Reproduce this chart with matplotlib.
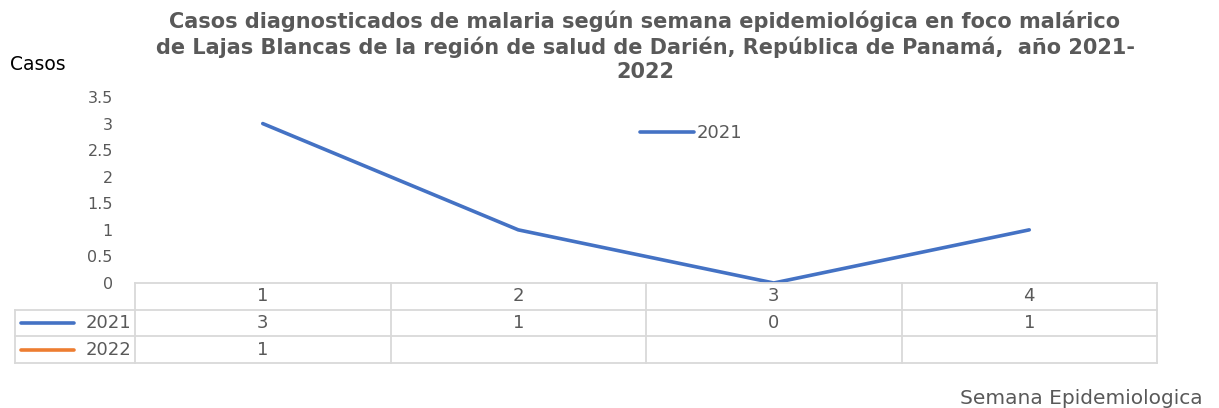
import matplotlib
matplotlib.use("Agg")
import matplotlib.pyplot as plt

semanas = ["1", "2", "3", "4"]
casos_2021 = [3, 1, 0, 1]
casos_2022 = [1, None, None, None]
yticks = [0, 0.5, 1, 1.5, 2, 2.5, 3, 3.5]
yticklabels = ["0", "0.5", "1", "1.5", "2", "2.5", "3", "3.5"]

titulo = ("Casos diagnosticados de malaria según semana epidemiológica en foco malárico\n"
          "de Lajas Blancas de la región de salud de Darién, República de Panamá,  año 2021-\n"
          "2022")

azul = "#4472C4"
naranja = "#ED7D31"
gris = "#595959"
borde = "#D9D9D9"

plt.rcParams['font.family'] = ['DejaVu Sans']

W, H = 1219, 408
fig = plt.figure(figsize=(W / 100, H / 100), dpi=100)
fs = 13

# main plot area
ax = fig.add_axes([135 / W, 1 - 283 / H, (1157 - 135) / W, (283 - 97) / H])
x = list(range(len(semanas)))
ax.plot(x, casos_2021, color=azul, lw=2.6, solid_capstyle='round', label="2021")
x22 = [i for i, v in zip(x, casos_2022) if v is not None]
y22 = [v for v in casos_2022 if v is not None]
ax.plot(x22, y22, color=naranja, lw=2.6, solid_capstyle='round')
ax.set_xlim(-0.5, len(semanas) - 0.5)
ax.set_ylim(0, 3.5)
ax.set_yticks(yticks)
ax.set_yticklabels(yticklabels)
ax.set_xticks([])
for s in ax.spines.values():
    s.set_visible(False)
ax.tick_params(axis='y', length=0, pad=16, labelsize=11.5, labelcolor=gris)

leg = ax.legend(loc='center left', bbox_to_anchor=((640 - 135) / 1022, (283 - 133) / 186),
                frameon=False, handlelength=3.0, handletextpad=0.15, fontsize=fs,
                borderaxespad=0, borderpad=0)
for t in leg.get_texts():
    t.set_color(gris)

# data table below
left_px = 15
col_w = 1022 / len(semanas)
tab = fig.add_axes([left_px / W, 1 - 363 / H, (1157 - left_px) / W, 80 / H])
x0 = -0.5 - (135 - left_px) / col_w
xe = len(semanas) - 0.5
tab.set_xlim(x0, xe)
tab.set_ylim(3, 0)
tab.axis('off')
lw_t = 1.3
# header row
tab.plot([-0.5, xe], [0, 0], color=borde, lw=lw_t, clip_on=False)
for r in range(1, 4):
    tab.plot([x0, xe], [r, r], color=borde, lw=lw_t, clip_on=False)
for c in range(len(semanas) + 1):
    tab.plot([c - 0.5, c - 0.5], [0, 3], color=borde, lw=lw_t, clip_on=False)
tab.plot([x0, x0], [1, 3], color=borde, lw=lw_t, clip_on=False)

for i, s in enumerate(semanas):
    tab.text(i, 0.5, s, ha='center', va='center', fontsize=fs, color=gris)
filas = [("2021", casos_2021, azul), ("2022", casos_2022, naranja)]
for r, (nombre, vals, col) in enumerate(filas, start=1):
    tab.plot([x0 + 0.025, x0 + 0.23], [r + 0.5, r + 0.5], color=col, lw=2.6,
             solid_capstyle='round', clip_on=False)
    tab.text(-0.515, r + 0.5, nombre, ha='right', va='center', fontsize=fs, color=gris)
    for i, v in enumerate(vals):
        if v is not None:
            tab.text(i, r + 0.5, str(v), ha='center', va='center', fontsize=fs, color=gris)

fig.text(645 / W, 1 - 10 / H, titulo, ha='center', va='top', fontsize=15,
         fontweight='bold', color=gris, linespacing=1.27)
fig.text(10 / W, 1 - 64 / H, "Casos", ha='left', va='center', fontsize=13.5, color='black')
fig.text(1203 / W, 1 - 398 / H, "Semana Epidemiologica", ha='right', va='center',
         fontsize=14.5, color=gris)

fig.savefig("out.png", dpi=100)
